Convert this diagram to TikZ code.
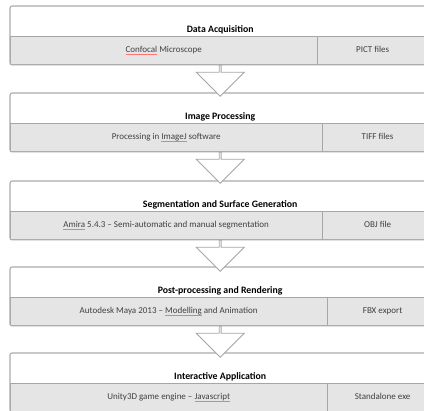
\documentclass[tikz,border=0pt]{standalone}
\usepackage{fontspec}
\setmainfont{Carlito}
\usepackage{tikz}
\usetikzlibrary{shapes.arrows, positioning, calc}
\tikzset{title/.style={rectangle,fill=white,align=center,minimum width=420pt,minimum height=30pt,
                       text height=23pt,text depth=1pt,inner sep=3pt,font=\fontsize{9.8}{11}\selectfont\bfseries},
         rowl/.style={rectangle,draw=gray!70,fill=gray!20,minimum height=28pt,inner sep=0pt,
                      text height=6.5pt,text depth=2pt,font=\fontsize{9}{10}\selectfont,text=black!75},
         rowr/.style={rowl,minimum width=110pt},
         frame/.style={draw=gray!65,line width=1.1pt,rounded corners=2pt},
         hollow/.style={single arrow,draw=gray!70,fill=white,line width=0.9pt,rotate=-90,
                        minimum height=31pt,minimum width=48pt,single arrow head extend=11pt,inner sep=0pt}}
\newcommand{\spellmark}[1]{{\setbox0\hbox{#1}\rlap{\color{red!55}\rule[-1.6pt]{\wd0}{0.4pt}}\box0}}
\begin{document}
\begin{tikzpicture}[x=1pt,y=1pt]
    \useasboundingbox (0,0) rectangle (424,-411);
    \fill[white] (0,0) rectangle (424,-411);
    % stage 1
    \node (t1) [title, anchor=north west] at (10,-6) {Data Acquisition};
    \node (l1) [rowl, anchor=north west, minimum width=307pt] at (t1.south west) {\spellmark{Confocal} Microscope};
    \node (r1) [rowr, anchor=west] at (l1.east) {PICT files};
    \draw[frame] (t1.north west) rectangle (r1.south east);
    % stage 2
    \node (t2) [title, anchor=north west] at (10,-93) {Image Processing};
    \node (l2) [rowl, anchor=north west, minimum width=312pt] at (t2.south west) {Processing in \spellmark{ImageJ} software};
    \node (r2) [rowr, anchor=west] at (l2.east) {TIFF files};
    \draw[frame] (t2.north west) rectangle (r2.south east);
    % stage 3
    \node (t3) [title, anchor=north west] at (10,-181) {Segmentation and Surface Generation};
    \node (l3) [rowl, anchor=north west, minimum width=312pt] at (t3.south west) {\spellmark{Amira} 5.4.3 -- Semi-automatic and manual segmentation};
    \node (r3) [rowr, anchor=west] at (l3.east) {OBJ file};
    \draw[frame] (t3.north west) rectangle (r3.south east);
    % stage 4
    \node (t4) [title, anchor=north west] at (10,-267) {Post-processing and Rendering};
    \node (l4) [rowl, anchor=north west, minimum width=317pt] at (t4.south west) {Autodesk Maya 2013 -- \spellmark{Modelling} and Animation};
    \node (r4) [rowr, anchor=west] at (l4.east) {FBX export};
    \draw[frame] (t4.north west) rectangle (r4.south east);
    % stage 5
    \node (t5) [title, anchor=north west] at (10,-353) {Interactive Application};
    \node (l5) [rowl, anchor=north west, minimum width=317pt] at (t5.south west) {Unity3D game engine -- \spellmark{Javascript}};
    \node (r5) [rowr, anchor=west] at (l5.east) {Standalone exe};
    \draw[frame] (t5.north west) rectangle (r5.south east);
    % block arrows
    \foreach \i/\j in {1/2,2/3,3/4,4/5}
      \node (a\i) [hollow, anchor=tail] at (l\i.south -| t\i.south) {};
\end{tikzpicture}
\end{document}
